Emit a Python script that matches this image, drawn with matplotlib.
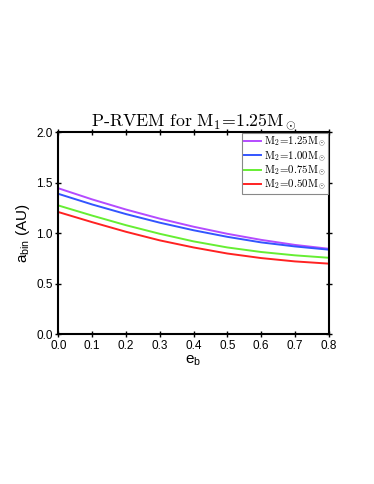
import matplotlib
matplotlib.use("Agg")
import matplotlib.pyplot as plt

plt.rcParams['font.family'] = ['Liberation Sans', 'DejaVu Sans']
plt.rcParams['mathtext.fontset'] = 'custom'
plt.rcParams['mathtext.rm'] = 'Liberation Sans'
plt.rcParams['mathtext.it'] = 'Liberation Sans:italic'

eb = [0.0, 0.1, 0.2, 0.3, 0.4, 0.5, 0.6, 0.7, 0.8]
a_125 = [1.445, 1.335, 1.235, 1.145, 1.065, 0.995, 0.935, 0.885, 0.847]
a_100 = [1.390, 1.285, 1.190, 1.105, 1.030, 0.965, 0.910, 0.870, 0.838]
a_075 = [1.275, 1.175, 1.080, 0.995, 0.920, 0.860, 0.815, 0.782, 0.758]
a_050 = [1.210, 1.110, 1.015, 0.930, 0.860, 0.800, 0.755, 0.722, 0.700]

series = [
    (a_125, r'$\mathrm{M_2\!=\!1.25M_\odot}$', '#b44bff'),
    (a_100, r'$\mathrm{M_2\!=\!1.00M_\odot}$', '#3355ff'),
    (a_075, r'$\mathrm{M_2\!=\!0.75M_\odot}$', '#66ee33'),
    (a_050, r'$\mathrm{M_2\!=\!0.50M_\odot}$', '#ff2222'),
]

fig = plt.figure(figsize=(3.74, 4.84), dpi=100)
ax = fig.add_axes([0.156, 0.309, 0.723, 0.418])

for vals, lab, col in series:
    ax.plot(eb, vals, color=col, lw=1.4, label=lab)

ax.set_xlim(0, 0.8)
ax.set_ylim(0, 2.0)
ax.set_xticks([0.0, 0.1, 0.2, 0.3, 0.4, 0.5, 0.6, 0.7, 0.8])
ax.set_yticks([0.0, 0.5, 1.0, 1.5, 2.0])
ax.set_xticklabels(['0.0', '0.1', '0.2', '0.3', '0.4', '0.5', '0.6', '0.7', '0.8'])
ax.set_yticklabels(['0.0', '0.5', '1.0', '1.5', '2.0'])
ax.tick_params(direction='inout', length=5, width=1.0, labelsize=8.5,
               top=True, right=True, pad=1.5)
for s in ax.spines.values():
    s.set_linewidth(1.5)

ax.set_xlabel(r'e$_\mathrm{b}$', fontsize=11, labelpad=1)
ax.set_ylabel(r'a$_\mathrm{bin}$ (AU)', fontsize=11, labelpad=3)

ax.set_title(r'P-RVEM for M$_1$=1.25M$_\odot$', family='cmr10', math_fontfamily='cm',
             fontsize=12.8, pad=5)

leg = ax.legend(loc='upper right', prop={'family': 'cmr10', 'size': 7.8, 'math_fontfamily': 'cm'},
                fancybox=False, edgecolor='#888888', framealpha=1,
                handlelength=1.6, handletextpad=0.25, labelspacing=0.0,
                borderpad=0.15, borderaxespad=0.1)
leg.get_frame().set_linewidth(0.8)

fig.savefig('out.png', dpi=100)
